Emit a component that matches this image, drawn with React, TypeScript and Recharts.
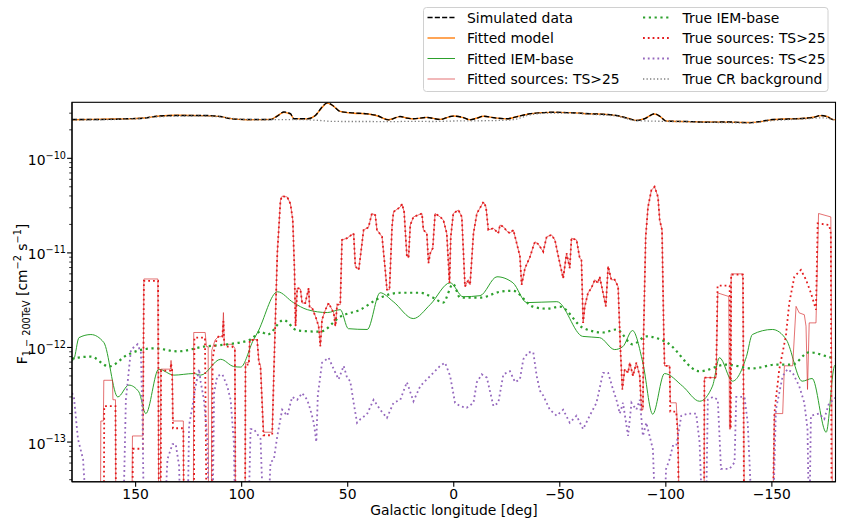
import React from 'react';
import { LineChart, Line, XAxis, YAxis } from 'recharts';

// Longitude profile of the 1-200 TeV flux. Flux values are in units of 1e-12 cm^-2 s^-1.
type Pt = [number, number];

const OUT = 0.01; // below the plotted range: curve drops out of the frame

const xTicks = [150, 100, 50, 0, -50, -100, -150];
const yTicks = [
  0.04, 0.05, 0.06, 0.07, 0.08, 0.09, 0.1, 0.2, 0.3, 0.4, 0.5, 0.6, 0.7, 0.8, 0.9,
  1, 2, 3, 4, 5, 6, 7, 8, 9, 10, 20, 30, 40, 50, 60, 70, 80, 90, 100, 200, 300,
];

const simulatedData: Pt[] = [
  [180, 257], [169.5, 257], [160, 259], [153.8, 262], [146, 266], [139.7, 279], [130.3, 284],
  [117.8, 284], [109.9, 277], [105.2, 262], [97.4, 257], [86.4, 257], [83.2, 279], [80.1, 309],
  [77, 296], [75.4, 262], [69.1, 262], [65.2, 284], [62.1, 348], [59.7, 386], [57.4, 366],
  [53.5, 312], [47.2, 302], [40.9, 295], [36.2, 284], [30.7, 255], [25.2, 277], [22.1, 266],
  [19, 262], [12.7, 270], [6.4, 257], [1.7, 277], [0.2, 279], [-4, 272], [-7.7, 255], [-11, 266],
  [-14, 279], [-19, 268], [-25, 262], [-30, 276], [-35.9, 296], [-41, 303], [-46.9, 307],
  [-55, 303], [-64.1, 296], [-70, 292], [-76.7, 284], [-82, 265], [-86.1, 251], [-90, 262],
  [-94.7, 296], [-97.5, 275], [-100.2, 247], [-110, 245], [-119, 241], [-130, 242],
  [-139.4, 238], [-145, 246], [-150.4, 257], [-158, 260], [-166.1, 266], [-170, 272],
  [-173.1, 284], [-176, 276], [-178.6, 257], [-180, 255],
];

const fittedModel: Pt[] = [
  [180, 256], [169.5, 258], [160, 260], [153.8, 261], [146, 267], [139.7, 278], [130.3, 285],
  [117.8, 283], [109.9, 276], [105.2, 263], [97.4, 256], [86.4, 258], [83.2, 281], [80.1, 306],
  [77, 294], [75.4, 263], [69.1, 261], [65.2, 285], [62.1, 345], [59.7, 383], [57.4, 364],
  [53.5, 314], [47.2, 300], [40.9, 296], [36.2, 282], [30.7, 256], [25.2, 276], [22.1, 267],
  [19, 261], [12.7, 271], [6.4, 258], [1.7, 276], [0.2, 280], [-4, 271], [-7.7, 256], [-11, 267],
  [-14, 278], [-19, 269], [-25, 261], [-30, 277], [-35.9, 295], [-41, 304], [-46.9, 306],
  [-55, 304], [-64.1, 295], [-70, 293], [-76.7, 283], [-82, 266], [-86.1, 252], [-90, 263],
  [-94.7, 294], [-97.5, 274], [-100.2, 248], [-110, 244], [-119, 242], [-130, 241],
  [-139.4, 239], [-145, 245], [-150.4, 256], [-158, 261], [-166.1, 265], [-170, 273],
  [-173.1, 283], [-176, 277], [-178.6, 258], [-180, 256],
];

const crBackground: Pt[] = [
  [180, 253], [165, 256], [150, 262], [140, 274], [125, 280], [110, 274], [100, 258], [90, 255],
  [80, 257], [70, 256], [64, 252], [58, 246], [50, 245], [40, 245], [30, 244], [20, 246],
  [10, 245], [0, 248], [-10, 249], [-20, 251], [-28, 256], [-36, 288], [-46, 301], [-56, 300],
  [-64, 292], [-77, 279], [-86, 250], [-95, 247], [-105, 244], [-120, 240], [-140, 237],
  [-150, 250], [-160, 258], [-168, 263], [-174, 268], [-180, 252],
];

const fittedIem: Pt[] = [
  [180, 0.72], [179.1, 0.75], [176.7, 1.27], [171.1, 1.37], [165, 1.13], [158.4, 0.3],
  [153.2, 0.4], [148.5, 0.34], [145.2, 0.2], [139.1, 0.59], [132, 0.51], [122.6, 0.53],
  [119.3, 0.51], [109.9, 0.75], [103.8, 0.63], [100.5, 0.62], [94.4, 1.21], [92.5, 1.44],
  [83.1, 3.88], [75.6, 2.98], [69, 2.51], [59.6, 2.34], [53.5, 2.51], [49.7, 1.58],
  [40.8, 1.55], [34.7, 3.79], [28.5, 3.05], [19.1, 2.02], [11.1, 2.84], [1.7, 4.83],
  [-4.4, 3.44], [-12.4, 3.53], [-20.4, 5.59], [-27.9, 4.83], [-34.5, 2.98], [-48.6, 3.05],
  [-60.8, 1.31], [-68.8, 1.27], [-75.9, 0.95], [-79.7, 1.02], [-84.3, 1.51], [-89.1, 0.7],
  [-93.8, 0.197], [-99.4, 0.53], [-107.9, 0.39], [-115.9, 0.27], [-122, 0.39], [-125.3, 0.78],
  [-131.4, 0.44], [-138, 0.8], [-140.8, 1.37], [-150.2, 1.55], [-156.8, 1.21], [-164.3, 0.44],
  [-169, 0.47], [-175.6, 0.127], [-179.4, 0.63], [-180, 0.66],
];

const trueIem: Pt[] = [
  [180, 0.76], [179.1, 0.77], [171.1, 0.8], [162.6, 0.63], [153.7, 0.84], [141.4, 0.98],
  [130.1, 0.91], [117.9, 1.02], [106.6, 1.08], [95.8, 1.21], [91.1, 1.47], [87.8, 1.37],
  [80.3, 1.95], [73.7, 1.51], [62.9, 1.47], [53.5, 2.12], [44.1, 2.51], [34.7, 3.36],
  [25.2, 3.79], [15.8, 3.79], [9.7, 3.36], [5, 2.98], [0.3, 4.7], [-3, 3.36], [-12.4, 3.36],
  [-21.8, 3.88], [-27.9, 3.98], [-37.3, 2.7], [-43.9, 2.57], [-50, 2.7], [-60.8, 1.62],
  [-70.3, 1.44], [-76.8, 1.55], [-84.3, 1.08], [-90.9, 1.31], [-100.4, 1.13], [-115.9, 0.56],
  [-128.6, 0.66], [-140.8, 0.6], [-152.1, 0.66], [-159.6, 0.66], [-167.6, 0.89], [-178.4, 0.78],
  [-180, 0.77],
];

// bright sources between l = 83 and l = -102, where fitted and true TS>25 curves coincide
const brightCore: Pt[] = [
  [83.2, 9.9], [81.7, 36], [80.9, 39.8], [78.5, 39], [77, 33], [75.9, 22.3], [75.1, 6.6],
  [74.6, 1.68], [73.8, 4.25], [72.3, 4.15], [71.5, 2.95], [70, 2.95], [68.4, 4.25], [68, 2.7],
  [66.8, 2.62], [65.2, 2.13], [63.7, 1.68], [62.9, 1.03], [62.1, 1.97], [60.5, 2.51], [59, 2.95],
  [56.6, 2.32], [55.8, 1.68], [55, 2.84], [53.5, 2.84], [52.7, 13.7], [50.3, 14.3], [47.2, 16.1],
  [46.4, 7.2], [44.8, 6.6], [44, 9.2], [42.5, 17.5], [40.2, 18.6], [38.6, 26.1], [37, 25.1],
  [36.2, 17.5], [33.8, 14.8], [32.3, 6.6], [31.5, 4.08], [30.3, 4.08], [29.1, 18.9], [28.4, 27.2],
  [25.2, 30.6], [24.4, 33], [23.4, 27.2], [22.1, 9.2], [21.3, 8.9], [20.5, 19.7], [19, 24],
  [15, 26.1], [14.3, 17.5], [12.7, 16.1], [11.9, 7.8], [11.1, 9.9], [9.9, 11.2], [8.8, 26.1],
  [6.4, 24], [4.9, 22.3], [3.3, 16.1], [2, 4.8], [1.4, 14.8], [0.2, 26.1], [-2.2, 28.4],
  [-3.8, 24], [-5.3, 4.4], [-6.9, 5.2], [-7.7, 4.6], [-9.3, 16.1], [-10.9, 26.1], [-14, 34.6],
  [-15.2, 30.6], [-16.3, 17.5], [-18.7, 18.2], [-21, 16.1], [-21.8, 19.7], [-23.4, 18.9],
  [-25, 17], [-26.5, 16.1], [-28.1, 17.5], [-29.7, 12.6], [-31.2, 9.2], [-32, 4.6], [-33.6, 6.9],
  [-35.9, 9], [-37.5, 11.7], [-38.3, 13.1], [-39.8, 12.4], [-42.2, 10.3], [-43.8, 14.8],
  [-46.1, 15.5], [-47.7, 13.7], [-50, 7.8], [-51.6, 5.4], [-53.2, 9.9], [-54.7, 6.9],
  [-55.5, 14.3], [-57.9, 13.7], [-59.4, 8.8], [-60.2, 8.5], [-61, 1.82], [-61.8, 2.72],
  [-63.3, 3.77], [-64.9, 4.25], [-66.5, 5.2], [-68, 4.8], [-68.8, 5.6], [-70.4, 3.77],
  [-71.7, 2.72], [-72.8, 7.2], [-74.3, 5.2], [-75.9, 5.2], [-77.5, 4.4], [-78.6, 0.95],
  [-79.5, 0.36], [-80.6, 0.59], [-82.2, 0.54], [-83, 0.69], [-84.5, 0.5], [-86.1, 0.69],
  [-87.7, 0.5], [-88.5, 0.22], [-89.2, 0.22], [-89.5, 1.32], [-90.5, 14.8], [-91.6, 30.6],
  [-93.2, 46], [-94.7, 50], [-96.3, 39], [-97.1, 22.3], [-98.2, 17.5], [-99, 1.55],
  [-99.4, 0.64], [-101.8, 0.64],
];

const fittedSrcEast: Pt[] = [
  [180, OUT], [166.6, OUT], [166.4, 0.167], [165.2, 0.167], [165, 0.45], [160.9, 0.45],
  [160.7, 0.28], [159.5, 0.28], [159.3, OUT], [151.8, OUT], [151.5, 0.116], [146.6, 0.116],
  [146.1, 5.3], [139.5, 5.3], [139.1, OUT], [138.3, OUT], [138.1, 0.59], [133.6, 0.59],
  [133.3, 0.73], [133, 0.59], [132.7, 0.59], [132.4, 0.167], [127.5, 0.167], [127.3, OUT],
  [122.8, OUT], [122.6, 1.44], [117.2, 1.44], [116.6, 1.02], [115.8, 1.02], [115.6, OUT],
  [114.3, OUT], [114.1, 0.93], [112.5, 1.2], [111, 1.3], [109.1, 1.3], [108.6, 2.34],
  [108.2, 1.1], [107.7, 1.08], [104.5, 1.08], [103.2, 0.98], [102.9, OUT], [98.4, OUT],
  [98.2, 0.69], [96.6, 0.69], [96.2, 1.21], [92.7, 1.21], [91.9, 0.72], [91.1, 0.64],
  [89.7, 0.127], [85.6, 0.127], [84.8, 0.59],
];

const fittedSrcWest: Pt[] = [
  [-102.1, 0.26], [-104.9, 0.26], [-105.7, 0.116], [-106.5, OUT], [-118, OUT], [-118.2, 0.48],
  [-123.7, 0.48], [-124.5, 3.77], [-129.7, 3.46], [-130, 0.137], [-130.5, 0.137], [-130.8, 6],
  [-136.3, 6], [-137.1, OUT], [-150.3, OUT], [-151.2, 0.2], [-155.1, 0.2], [-155.9, 0.64],
  [-159.8, 0.64], [-161.4, 2.72], [-162.9, 2.32], [-165.3, 2.22], [-166.1, 1.68], [-166.8, 0.36],
  [-167.6, 1.82], [-170.8, 1.82], [-172, 26.1], [-177.8, 24], [-178.6, OUT], [-180, OUT],
];

const trueSrcEast: Pt[] = [
  [180, OUT], [165, OUT], [164.8, 0.24], [159.5, 0.24], [159.2, OUT], [151.6, OUT],
  [151.3, 0.085], [146.6, 0.085], [146.1, 5.07], [139.4, 5.07], [139, OUT], [138.2, OUT],
  [138, 0.57], [133.6, 0.57], [133.3, 0.68], [132.8, 0.57], [132.4, 0.14], [127.5, 0.14],
  [127.2, OUT], [122.5, OUT], [122.3, 1.27], [117.3, 1.27], [116.5, OUT], [114, OUT],
  [113.7, 0.75], [112.5, 1.1], [111, 1.3], [109.1, 1.3], [108.6, 1.9], [108.2, 1.05],
  [107.5, 1.02], [104.5, 1.02], [103.2, 0.95], [102.9, OUT], [98.4, OUT], [98.2, 0.66],
  [96.6, 0.66], [96.2, 1.2], [92.7, 1.2], [91.9, 0.7], [91.1, 0.6], [89.7, 0.118],
  [85.6, 0.118], [84.8, 0.55],
];

const trueSrcWest: Pt[] = [
  [-102.1, 0.21], [-104.9, 0.21], [-105.7, 0.116], [-106.3, OUT], [-118, OUT], [-118.2, 0.48],
  [-123.7, 0.48], [-124.4, 4.5], [-130.1, 4.5], [-130.4, 0.14], [-130.6, 0.14], [-130.8, 5.9],
  [-136.4, 5.9], [-136.9, OUT], [-150.3, OUT], [-151.2, 0.2], [-152, 0.3], [-153.5, 0.59],
  [-156.6, 1.32], [-158.2, 2.95], [-160.6, 5.6], [-163.7, 6.6], [-166.1, 5.2], [-168.4, 3.77],
  [-170.8, 2.51], [-171.6, 20.5], [-177, 19.7], [-177.8, 16.1], [-178.2, OUT], [-180, OUT],
];

const faintSources: Pt[] = [
  [180, 0.33], [179.1, 0.3], [177.2, 0.108], [174.8, 0.066], [172.5, OUT], [156, OUT],
  [154.6, 0.28], [152.2, 0.95], [149.1, 1.08], [147.5, 0.88], [146.7, 0.15], [146, OUT],
  [136.7, OUT], [135, 0.066], [132.6, 0.095], [131.1, 0.095], [129.5, 0.056], [128.7, OUT],
  [125.6, OUT], [124.8, 0.15], [123.2, 0.24], [121.7, 0.39], [120.1, 0.59], [119.3, 0.43],
  [117.8, 0.28], [116.2, 0.108], [115.4, OUT], [113.8, OUT], [113, 0.33], [111.5, 0.5],
  [109.1, 0.52], [106.8, 0.39], [105.2, 0.28], [103.7, 0.1], [102.9, OUT], [97, OUT],
  [95.8, 0.137], [94.2, 0.137], [91.1, 0.108], [89.5, OUT], [87.9, OUT], [86.4, 0.061],
  [84.8, 0.066], [83.2, 0.116], [80.9, 0.22], [78.5, 0.19], [76.2, 0.3], [73.8, 0.28],
  [71.5, 0.33], [69.1, 0.28], [67.6, 0.22], [66, 0.16], [64.8, 0.1], [64.1, 0.31], [62.1, 0.69],
  [59, 0.78], [56.6, 0.59], [54.3, 0.46], [51.9, 0.64], [50.3, 0.48], [48.8, 0.44], [47.2, 0.26],
  [45.6, 0.16], [44, 0.175], [40.9, 0.197], [37.8, 0.28], [34.7, 0.22], [31.5, 0.18],
  [28.4, 0.26], [25.2, 0.28], [22.1, 0.43], [19, 0.27], [15.8, 0.39], [12.7, 0.46], [9.6, 0.54],
  [6.4, 0.64], [4.1, 0.69], [1.7, 0.5], [-0.6, 0.26], [-3, 0.24], [-6.1, 0.23], [-9.3, 0.26],
  [-10.9, 0.43], [-13.2, 0.52], [-15.6, 0.48], [-18.7, 0.24], [-21, 0.26], [-23.4, 0.52],
  [-26.5, 0.56], [-28.9, 0.43], [-31.2, 0.46], [-32.8, 0.75], [-35.1, 0.89], [-37.5, 0.89],
  [-39.1, 0.5], [-40.6, 0.35], [-42.2, 0.31], [-45.3, 0.22], [-48.5, 0.19], [-51.6, 0.22],
  [-54.7, 0.16], [-57.9, 0.19], [-61, 0.137], [-64.1, 0.19], [-67.3, 0.26], [-70.4, 0.54],
  [-72.8, 0.54], [-75.1, 0.36], [-76.7, 0.28], [-78.3, 0.2], [-79.8, 0.26], [-82.2, 0.116],
  [-83.8, 0.26], [-86.1, 0.22], [-87.7, 0.28], [-89.2, 0.116], [-90.8, 0.16], [-93.9, 0.084],
  [-95.4, OUT], [-99, OUT], [-100.1, 0.052], [-101.8, 0.066], [-103.3, 0.091], [-104.9, 0.091],
  [-107.3, 0.19], [-110.4, 0.2], [-114.3, 0.2], [-115.9, 0.1], [-117.5, OUT], [-118.8, OUT],
  [-119.8, 0.28], [-122.2, 0.3], [-124.5, 0.28], [-125.3, 0.116], [-126, 0.052], [-130, 0.052],
  [-132.4, 0.061], [-133.2, 0.3], [-137.1, 0.3], [-138.6, 0.16], [-139.4, 0.066], [-141, OUT],
  [-150.3, OUT], [-151.9, 0.22], [-155.1, 0.5], [-157.4, 0.59], [-159.8, 0.54], [-162.9, 0.39],
  [-165.3, 0.26], [-166.8, 0.137], [-167.6, OUT], [-168.4, 0.19], [-172.3, 0.2], [-174.7, 0.175],
  [-177, 0.26], [-179.4, 0.28], [-180, 0.3],
];

const rows = (pts: Pt[]) => pts.map(([lon, v]) => ({ lon, v }));

const FONT = 'DejaVu Sans, sans-serif';
const FS = 13.9;

// plot frame, matching the chart margins below
const PLOT = { left: 72, top: 102.3, right: 835.5, bottom: 481.8 };

const series = [
  { name: 'Fitted model', pts: fittedModel, color: '#ff7f0e', width: 1.4, dash: undefined, opacity: 1, curve: 'monotone' },
  { name: 'Simulated data', pts: simulatedData, color: '#000000', width: 1.4, dash: '5.1 2.2', opacity: 1, curve: 'monotone' },
  { name: 'Fitted IEM-base', pts: fittedIem, color: '#2ca02c', width: 1, dash: undefined, opacity: 1, curve: 'monotone' },
  { name: 'Fitted sources: TS>25', pts: [...fittedSrcEast, ...brightCore, ...fittedSrcWest], color: '#d62728', width: 1, dash: undefined, opacity: 0.65, curve: 'linear' },
  { name: 'True IEM-base', pts: trueIem, color: '#2ca02c', width: 2.2, dash: '2.2 3.6', opacity: 1, curve: 'monotone' },
  { name: 'True sources: TS>25', pts: [...trueSrcEast, ...brightCore, ...trueSrcWest], color: '#e41a1c', width: 1.8, dash: '1.8 3', opacity: 1, curve: 'linear' },
  { name: 'True sources: TS<25', pts: faintSources, color: '#9467bd', width: 1.8, dash: '1.8 3', opacity: 1, curve: 'linear' },
  { name: 'True CR background', pts: crBackground, color: '#7f7f7f', width: 1.3, dash: '1.3 2.2', opacity: 1, curve: 'monotone' },
];

const legendOrder = [
  'Simulated data', 'Fitted model', 'Fitted IEM-base', 'Fitted sources: TS>25',
  'True IEM-base', 'True sources: TS>25', 'True sources: TS<25', 'True CR background',
];

function YTick(props: any) {
  const { x, y, payload } = props;
  const e = Math.log10(payload.value);
  const major = Math.abs(e - Math.round(e)) < 1e-6;
  if (!major) {
    return <line x1={x - 2.8} x2={x} y1={y} y2={y} stroke="#000" strokeWidth={0.8} />;
  }
  return (
    <g>
      <line x1={x - 4.9} x2={x} y1={y} y2={y} stroke="#000" strokeWidth={1.1} />
      <text x={x - 6} y={y + 6.5} textAnchor="end" fontFamily={FONT} fontSize={FS} fill="#000">
        10<tspan dy={-6.2} fontSize={9.7}>{`\u2212${12 - Math.round(e)}`}</tspan>
      </text>
    </g>
  );
}

function XTick(props: any) {
  const { x, y, payload } = props;
  const v = payload.value;
  const label = v < 0 ? `\u2212${-v}` : `${v}`;
  return (
    <g>
      <line x1={x} x2={x} y1={y} y2={y + 4.9} stroke="#000" strokeWidth={1.1} />
      <text x={x} y={y + 17} textAnchor="middle" fontFamily={FONT} fontSize={FS} fill="#000">
        {label}
      </text>
    </g>
  );
}

function Overlay() {
  const rowY = [17.5, 38, 58.5, 79];
  return (
    <svg width={842} height={526} style={{ position: 'absolute', left: 0, top: 0, pointerEvents: 'none' }}>
      <rect x={PLOT.left} y={PLOT.top} width={PLOT.right - PLOT.left} height={PLOT.bottom - PLOT.top}
        fill="none" stroke="#000" strokeWidth={1.1} />
      <text x={454} y={515} textAnchor="middle" fontFamily={FONT} fontSize={FS} fill="#000">
        Galactic longitude [deg]
      </text>
      <text transform="translate(26.5, 294) rotate(-90)" textAnchor="middle" fontFamily={FONT} fontSize={FS} fill="#000">
        F<tspan dy={3} fontSize={9.7}>1 − 200TeV</tspan>
        <tspan dy={-3}> [cm</tspan>
        <tspan dy={-6} fontSize={9.7}>−2</tspan>
        <tspan dy={6}> s</tspan>
        <tspan dy={-6} fontSize={9.7}>−1</tspan>
        <tspan dy={6}>]</tspan>
      </text>
      <rect x={423.5} y={7.5} width={404.5} height={84} rx={3} fill="#fff" fillOpacity={0.8} stroke="#d0d0d0" strokeWidth={1} />
      {legendOrder.map((name, i) => {
        const s = series.find(d => d.name === name)!;
        const col = Math.floor(i / 4);
        const y = rowY[i % 4];
        const x0 = col === 0 ? 427.5 : 643;
        return (
          <g key={name}>
            <line x1={x0} x2={x0 + 27.5} y1={y} y2={y} stroke={s.color} strokeWidth={s.width}
              strokeDasharray={s.dash} strokeOpacity={s.opacity} />
            <text x={x0 + 39.5} y={y + 5} fontFamily={FONT} fontSize={FS} fill="#000">{name}</text>
          </g>
        );
      })}
    </svg>
  );
}

export default function App() {
  return (
    <div style={{ position: 'absolute', left: 0, top: 0, width: 842, height: 526, background: '#fff' }}>
      <LineChart
        width={842}
        height={526}
        margin={{ top: PLOT.top, right: 842 - PLOT.right, bottom: 0, left: 0 }}
      >
        <XAxis
          dataKey="lon" type="number" domain={[-180, 180]} reversed allowDataOverflow
          ticks={xTicks} interval={0} tick={<XTick />} tickLine={false} tickSize={0} tickMargin={0}
          height={526 - PLOT.bottom} axisLine={{ stroke: '#000', strokeWidth: 1.1 }}
        />
        <YAxis
          type="number" scale="log" domain={[0.038, 391]} allowDataOverflow
          ticks={yTicks} interval={0} tick={<YTick />} tickLine={false} tickSize={0} tickMargin={0}
          width={PLOT.left} axisLine={{ stroke: '#000', strokeWidth: 1.1 }}
        />
        {series.map(s => (
          <Line
            key={s.name}
            name={s.name}
            data={rows(s.pts)}
            dataKey="v"
            type={s.curve as any}
            stroke={s.color}
            strokeWidth={s.width}
            strokeDasharray={s.dash}
            strokeOpacity={s.opacity}
            dot={false}
            activeDot={false}
            isAnimationActive={false}
          />
        ))}
      </LineChart>
      <Overlay />
    </div>
  );
}
